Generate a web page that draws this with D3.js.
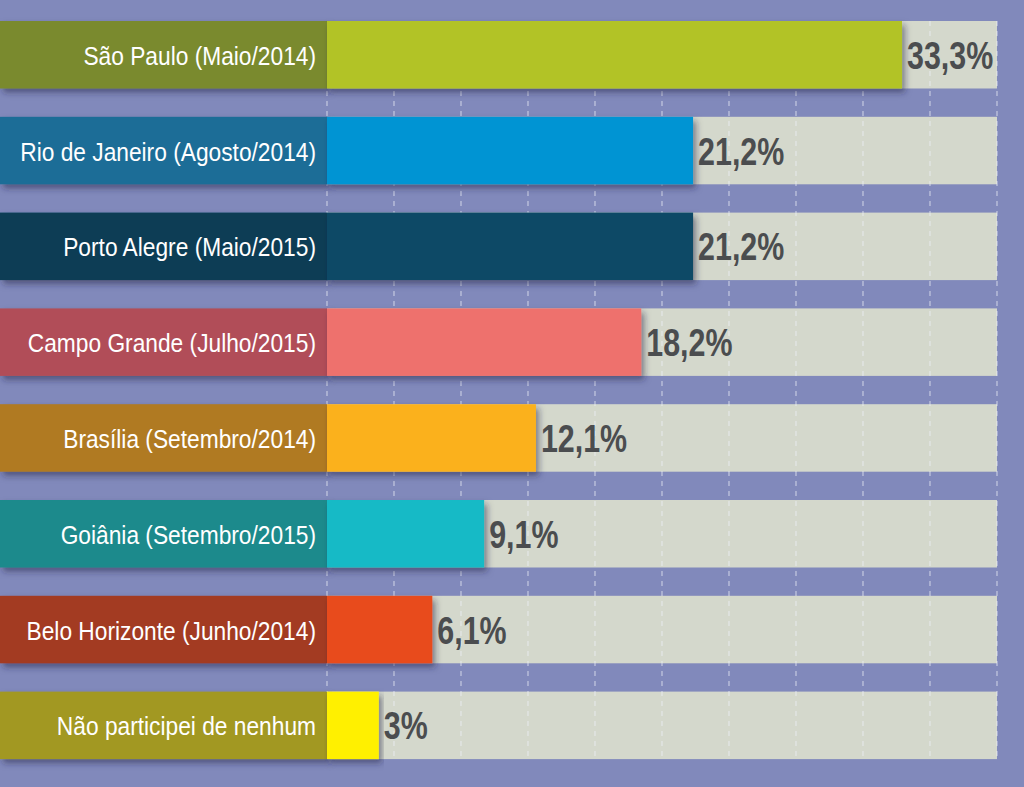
<!DOCTYPE html>
<html><head><meta charset="utf-8">
<script src="https://cdn.jsdelivr.net/npm/d3@7"></script>
<style>
html,body{margin:0;padding:0;background:#8189bb;}
svg{display:block;}
</style></head>
<body>
<script>
const categories = [
  "São Paulo (Maio/2014)",
  "Rio de Janeiro (Agosto/2014)",
  "Porto Alegre (Maio/2015)",
  "Campo Grande (Julho/2015)",
  "Brasília (Setembro/2014)",
  "Goiânia (Setembro/2015)",
  "Belo Horizonte (Junho/2014)",
  "Não participei de nenhum"
];
const values = [33.3, 21.2, 21.2, 18.2, 12.1, 9.1, 6.1, 3];
const valueLabels = ["33,3%", "21,2%", "21,2%", "18,2%", "12,1%", "9,1%", "6,1%", "3%"];
const labelColors = ["#7a8a2d", "#1f6d97", "#0f3d55", "#b14e58", "#b07a22", "#1b8a8c", "#a33b20", "#a29824"];
const barColors = ["#b2c325", "#0094d3", "#0c4a66", "#ee716d", "#fbb11e", "#19bac6", "#e84c1b", "#fff000"];

const W = 1024, H = 787;
const x0 = 327, x1 = 997;
const domainMax = 38.8;

const svg = d3.select("body").append("svg").attr("width", W).attr("height", H);
svg.append("rect").attr("width", W).attr("height", H).attr("fill", "#8189bb");

const defs = svg.append("defs");
const f = defs.append("filter").attr("id","sh").attr("x","-5%").attr("y","-20%").attr("width","115%").attr("height","160%");
f.append("feDropShadow").attr("dx",3).attr("dy",4).attr("stdDeviation",3).attr("flood-color","#1a1d40").attr("flood-opacity",0.5);

const x = d3.scaleLinear().domain([0, domainMax]).range([x0, x1]);
const y = d3.scalePoint().domain(categories).range([21, 21 + 95.8 * 7]);
const bh = 67.5;

const rows = categories.map((c, i) => ({c, v: values[i], lab: valueLabels[i], lc: labelColors[i], bc: barColors[i]}));

// tracks
svg.selectAll("rect.track").data(rows).join("rect")
  .attr("class","track")
  .attr("x", x(0)).attr("y", d => y(d.c))
  .attr("width", x(domainMax) - x(0)).attr("height", bh)
  .attr("fill", "#d4d8cc");

// grid
const gridTicks = d3.range(0, 11).map(i => domainMax * i / 10);
svg.selectAll("line.grid").data(gridTicks).join("line")
  .attr("class","grid")
  .attr("x1", d => x(d)).attr("x2", d => x(d))
  .attr("y1", 21).attr("y2", y(categories[7]) + bh)
  .attr("stroke", "#eef0f8").attr("stroke-opacity", 0.75)
  .attr("stroke-width", 1).attr("stroke-dasharray", "5,5");

// label boxes
svg.selectAll("rect.lbox").data(rows).join("rect")
  .attr("class","lbox")
  .attr("x", 0).attr("y", d => y(d.c))
  .attr("width", x0).attr("height", bh)
  .attr("fill", d => d.lc)
  .attr("filter","url(#sh)");

// bars
svg.selectAll("rect.bar").data(rows).join("rect")
  .attr("class","bar")
  .attr("x", x(0)).attr("y", d => y(d.c))
  .attr("width", d => x(d.v) - x(0)).attr("height", bh)
  .attr("fill", d => d.bc)
  .attr("filter","url(#sh)");

// category labels
svg.selectAll("text.cat").data(rows).join("text")
  .attr("class","cat")
  .attr("transform", d => `translate(316,${y(d.c) + bh/2 + 10}) scale(0.91,1)`)
  .attr("text-anchor","end")
  .attr("fill","#ffffff")
  .style("font-family","'Liberation Sans',Arial,sans-serif")
  .style("font-size","25px")
  .text(d => d.c);

// value labels
svg.selectAll("text.val").data(rows).join("text")
  .attr("class","val")
  .attr("transform", d => `translate(${x(d.v) + 5},${y(d.c) + bh/2 + 14}) scale(0.8,1)`)
  .attr("fill","#4b4d4f")
  .style("font-family","'Liberation Sans',Arial,sans-serif")
  .style("font-weight","bold")
  .style("font-size","38px")
  .text(d => d.lab);
</script>
</body></html>
